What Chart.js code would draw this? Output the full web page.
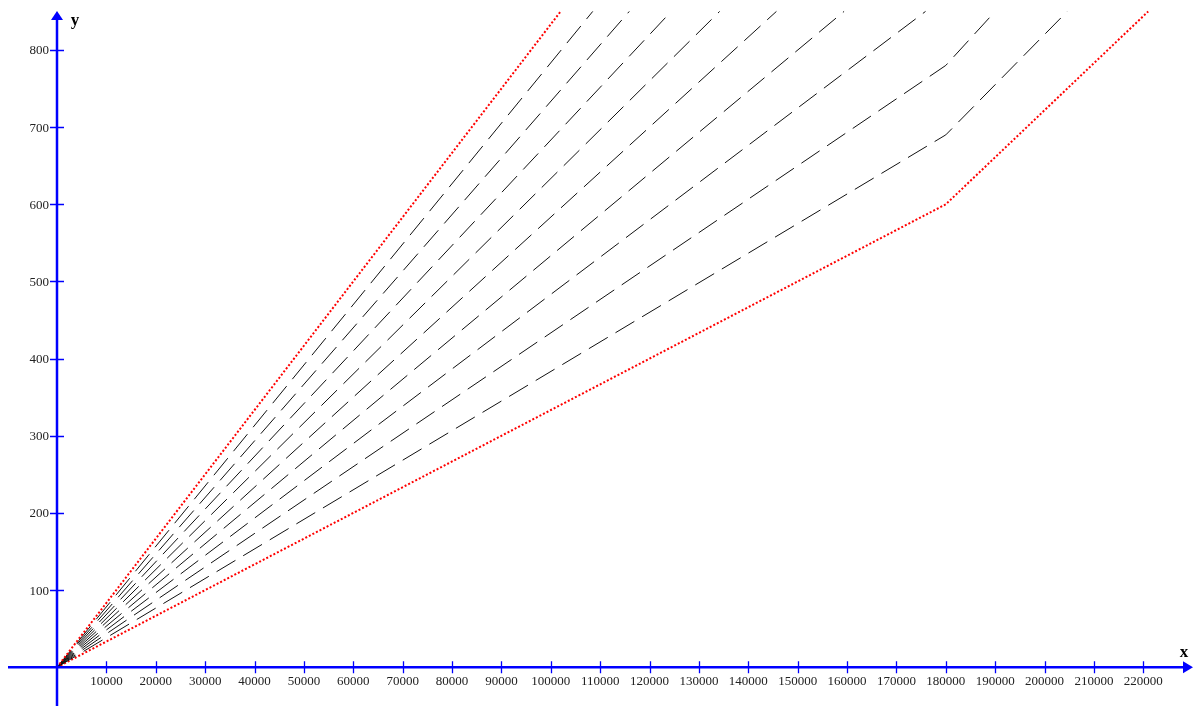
<!DOCTYPE html>
<html>
<head>
<meta charset="utf-8">
<script src="https://cdn.jsdelivr.net/npm/chart.js@4"></script>
<style>
  html, body { margin: 0; padding: 0; background: #fff; }
  canvas { display: block; }
</style>
</head>
<body>
<canvas id="myChart" width="1195" height="706"></canvas>
<script>
// values
const topY = 850;
const kinkX = 180000;

const redUpperX = [0, 102000];
const redUpperY = [0, 850];
const redLowerX = [0, 180000, 221000];
const redLowerY = [0, 600, 850];

// dashed lines that reach the top before x = 180000
const dashedEndX = [108500, 115900, 124400, 134200, 145700, 159400, 175900];
// dashed lines that bend at x = 180000
const bentY = [780, 690];
const bentEndX = [190000, 204600];

const xTicks = [10000, 20000, 30000, 40000, 50000, 60000, 70000, 80000, 90000, 100000, 110000,
  120000, 130000, 140000, 150000, 160000, 170000, 180000, 190000, 200000, 210000, 220000];
const yTicks = [100, 200, 300, 400, 500, 600, 700, 800];

function pts(xs, ys) {
  return xs.map((x, i) => ({ x: x, y: ys[i] }));
}

const datasets = [];
datasets.push({
  data: pts(redUpperX, redUpperY),
  borderColor: '#ff0000', borderWidth: 2, borderDash: [2, 2]
});
dashedEndX.forEach(ex => {
  datasets.push({
    data: pts([0, ex], [0, topY]),
    borderColor: '#111', borderWidth: 1, borderDash: [22, 9]
  });
});
bentEndX.forEach((ex, i) => {
  datasets.push({
    data: pts([0, kinkX, ex], [0, bentY[i], topY]),
    borderColor: '#111', borderWidth: 1, borderDash: [22, 9]
  });
});
datasets.push({
  data: pts(redLowerX, redLowerY),
  borderColor: '#ff0000', borderWidth: 2, borderDash: [2, 2]
});

const axesPlugin = {
  id: 'axes',
  afterDatasetsDraw(chart) {
    const c = chart.ctx;
    const xs = chart.scales.x, ys = chart.scales.y;
    const ox = xs.getPixelForValue(0), oy = ys.getPixelForValue(0);
    const right = 1193, top = 11;
    c.save();
    c.strokeStyle = '#0000ff';
    c.fillStyle = '#0000ff';
    c.lineWidth = 2.5;
    c.beginPath();
    c.moveTo(8, oy); c.lineTo(right - 6, oy);
    c.moveTo(ox, chart.height); c.lineTo(ox, top + 6);
    c.stroke();
    // arrows
    c.beginPath();
    c.moveTo(right, oy); c.lineTo(right - 10, oy - 6); c.lineTo(right - 10, oy + 6); c.closePath();
    c.fill();
    c.beginPath();
    c.moveTo(ox, top); c.lineTo(ox - 6, top + 9); c.lineTo(ox + 6, top + 9); c.closePath();
    c.fill();
    // tick marks
    c.lineWidth = 1.3;
    c.beginPath();
    xTicks.forEach(v => {
      const px = Math.round(xs.getPixelForValue(v)) + 0.5;
      c.moveTo(px, oy - 6); c.lineTo(px, oy + 6);
    });
    yTicks.forEach(v => {
      const py = Math.round(ys.getPixelForValue(v)) + 0.5;
      c.moveTo(ox - 7, py); c.lineTo(ox + 7, py);
    });
    c.stroke();
    // tick labels
    c.fillStyle = '#222';
    c.font = '13px "Liberation Serif", "Times New Roman", serif';
    c.textAlign = 'center';
    c.textBaseline = 'middle';
    xTicks.forEach(v => {
      c.fillText(String(v), xs.getPixelForValue(v), oy + 14);
    });
    c.textAlign = 'right';
    yTicks.forEach(v => {
      c.fillText(String(v), ox - 8, ys.getPixelForValue(v) + 1);
    });
    // axis names
    c.fillStyle = '#000';
    c.font = 'bold 17px "Liberation Serif", "Times New Roman", serif';
    c.textAlign = 'center';
    c.fillText('x', 1184, oy - 15);
    c.fillText('y', 75, 21);
    c.restore();
  }
};

const ctx = document.getElementById('myChart');
new Chart(ctx, {
  type: 'scatter',
  data: { datasets: datasets },
  options: {
    responsive: false,
    animation: false,
    devicePixelRatio: 1,
    layout: { padding: 0 },
    datasets: {
      scatter: { showLine: true, pointRadius: 0, tension: 0, fill: false }
    },
    scales: {
      x: { type: 'linear', min: -11544, max: 230471, display: false },
      y: { type: 'linear', min: -50.2, max: 864.8, display: false }
    },
    plugins: {
      legend: { display: false },
      tooltip: { enabled: false }
    }
  },
  plugins: [axesPlugin]
});
</script>
</body>
</html>
